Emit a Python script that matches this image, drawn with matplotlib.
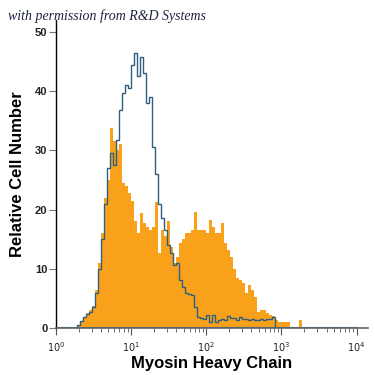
import numpy as np
import matplotlib.pyplot as plt
from matplotlib.ticker import LogLocator, NullFormatter

# histogram channels: 25 bins per decade over 10^0..10^4
edges = np.logspace(0, 4, 101)

# stained sample (orange fill)
stained = [
    0, 0, 0, 0, 0, 0, 0, 0.5, 1.2, 1.8,
    2.5, 3.0, 3.8, 6.5, 11, 16, 22, 25, 33.8, 31.5,
    30, 31, 24.5, 24, 22.8, 21.5, 18, 16, 19.4, 17.7,
    17.1, 16.5, 17, 21.3, 12.7, 16.5, 15.5, 18, 13.7, 11,
    12, 14.3, 15, 16, 16, 16.5, 19.6, 16.5, 16.5, 16.5,
    16, 18.2, 17.1, 16, 16, 17.7, 14.3, 13.2, 12, 10,
    8.5, 8.1, 7.6, 5.9, 7.3, 6.4, 5.2, 2.8, 3.0, 3.0,
    2.5, 2.2, 2.0, 1.4, 1.0, 1.0, 1.0, 1.0, 0, 0,
    0, 1.3, 0, 0, 0, 0, 0, 0, 0, 0,
    0, 0, 0, 0, 0, 0, 0, 0, 0, 0,
]

# isotype control (blue outline)
control = [
    0, 0, 0, 0, 0, 0, 0, 0.5, 1.2, 1.8,
    2.3, 2.8, 3.5, 6, 10, 15, 21, 27, 29.6, 27.5,
    31.8, 36.8, 39.7, 41, 40.5, 44.4, 46.4, 42.5, 45.8, 43,
    38, 39, 30.6, 26, 21, 18.5, 16.5, 14, 12.7, 10.6,
    11, 8.1, 7, 5.9, 5.8, 5.6, 3.5, 1.9, 1.7, 1.5,
    2.2, 1.0, 2.2, 1.0, 1.3, 1.5, 1.3, 2.0, 1.7, 1.7,
    1.3, 1.8, 1.5, 1.5, 1.3, 1.6, 1.4, 1.4, 1.6, 1.3,
    1.6, 1.5, 1.8, 0, 0, 0, 0, 0, 0, 0,
    0, 0, 0, 0, 0, 0, 0, 0, 0, 0,
    0, 0, 0, 0, 0, 0, 0, 0, 0, 0,
]

y_ticks = [0, 10, 20, 30, 40, 50]

fig = plt.figure(figsize=(3.75, 3.75), dpi=100)
ax = fig.add_axes([0.149, 0.125, 0.832, 0.822])

ax.stairs(stained, edges, fill=True, color='#f9a11b', linewidth=0)
ax.stairs(control, edges, color='#2f5f80', linewidth=1.0)
ax.axhline(0, color='#5a6670', linewidth=1.5, xmax=4 / 4.15)

ax.set_xscale('log')
ax.set_xlim(1, 10 ** 4.15)
ax.set_ylim(0, 52)
ax.set_yticks(y_ticks)
ax.xaxis.set_major_locator(LogLocator(base=10, numticks=10))
ax.xaxis.set_minor_locator(LogLocator(base=10, subs=np.arange(2, 10), numticks=10))
ax.xaxis.set_minor_formatter(NullFormatter())

for s in ['top', 'right']:
    ax.spines[s].set_visible(False)
ax.spines['left'].set_color('black')
ax.spines['left'].set_linewidth(1.0)
ax.spines['bottom'].set_color('#5a6670')
ax.spines['bottom'].set_linewidth(1.2)

ax.tick_params(axis='y', length=5, width=0.8, color='#777777', pad=1,
               labelsize=8, labelcolor='#222222')
ax.tick_params(axis='x', which='major', length=5, width=0.8, color='#555555',
               pad=4, labelsize=7, labelcolor='#222222')
ax.tick_params(axis='x', which='minor', length=3, width=0.6, color='#555555')
for lab in ax.get_yticklabels():
    lab.set_fontweight('bold')
    lab.set_family('Liberation Sans')

ax.set_xlabel('Myosin Heavy Chain', fontsize=12, fontweight='bold',
              family='Liberation Sans', labelpad=1)
ax.set_ylabel('Relative Cell Number', fontsize=12, fontweight='bold',
              family='Liberation Sans', labelpad=7)

fig.text(0.021, 0.957, 'with permission from R&D Systems', fontsize=10,
         style='italic', family='Liberation Serif', color='#1c2440', va='center')

fig.savefig('out.png', dpi=100)
